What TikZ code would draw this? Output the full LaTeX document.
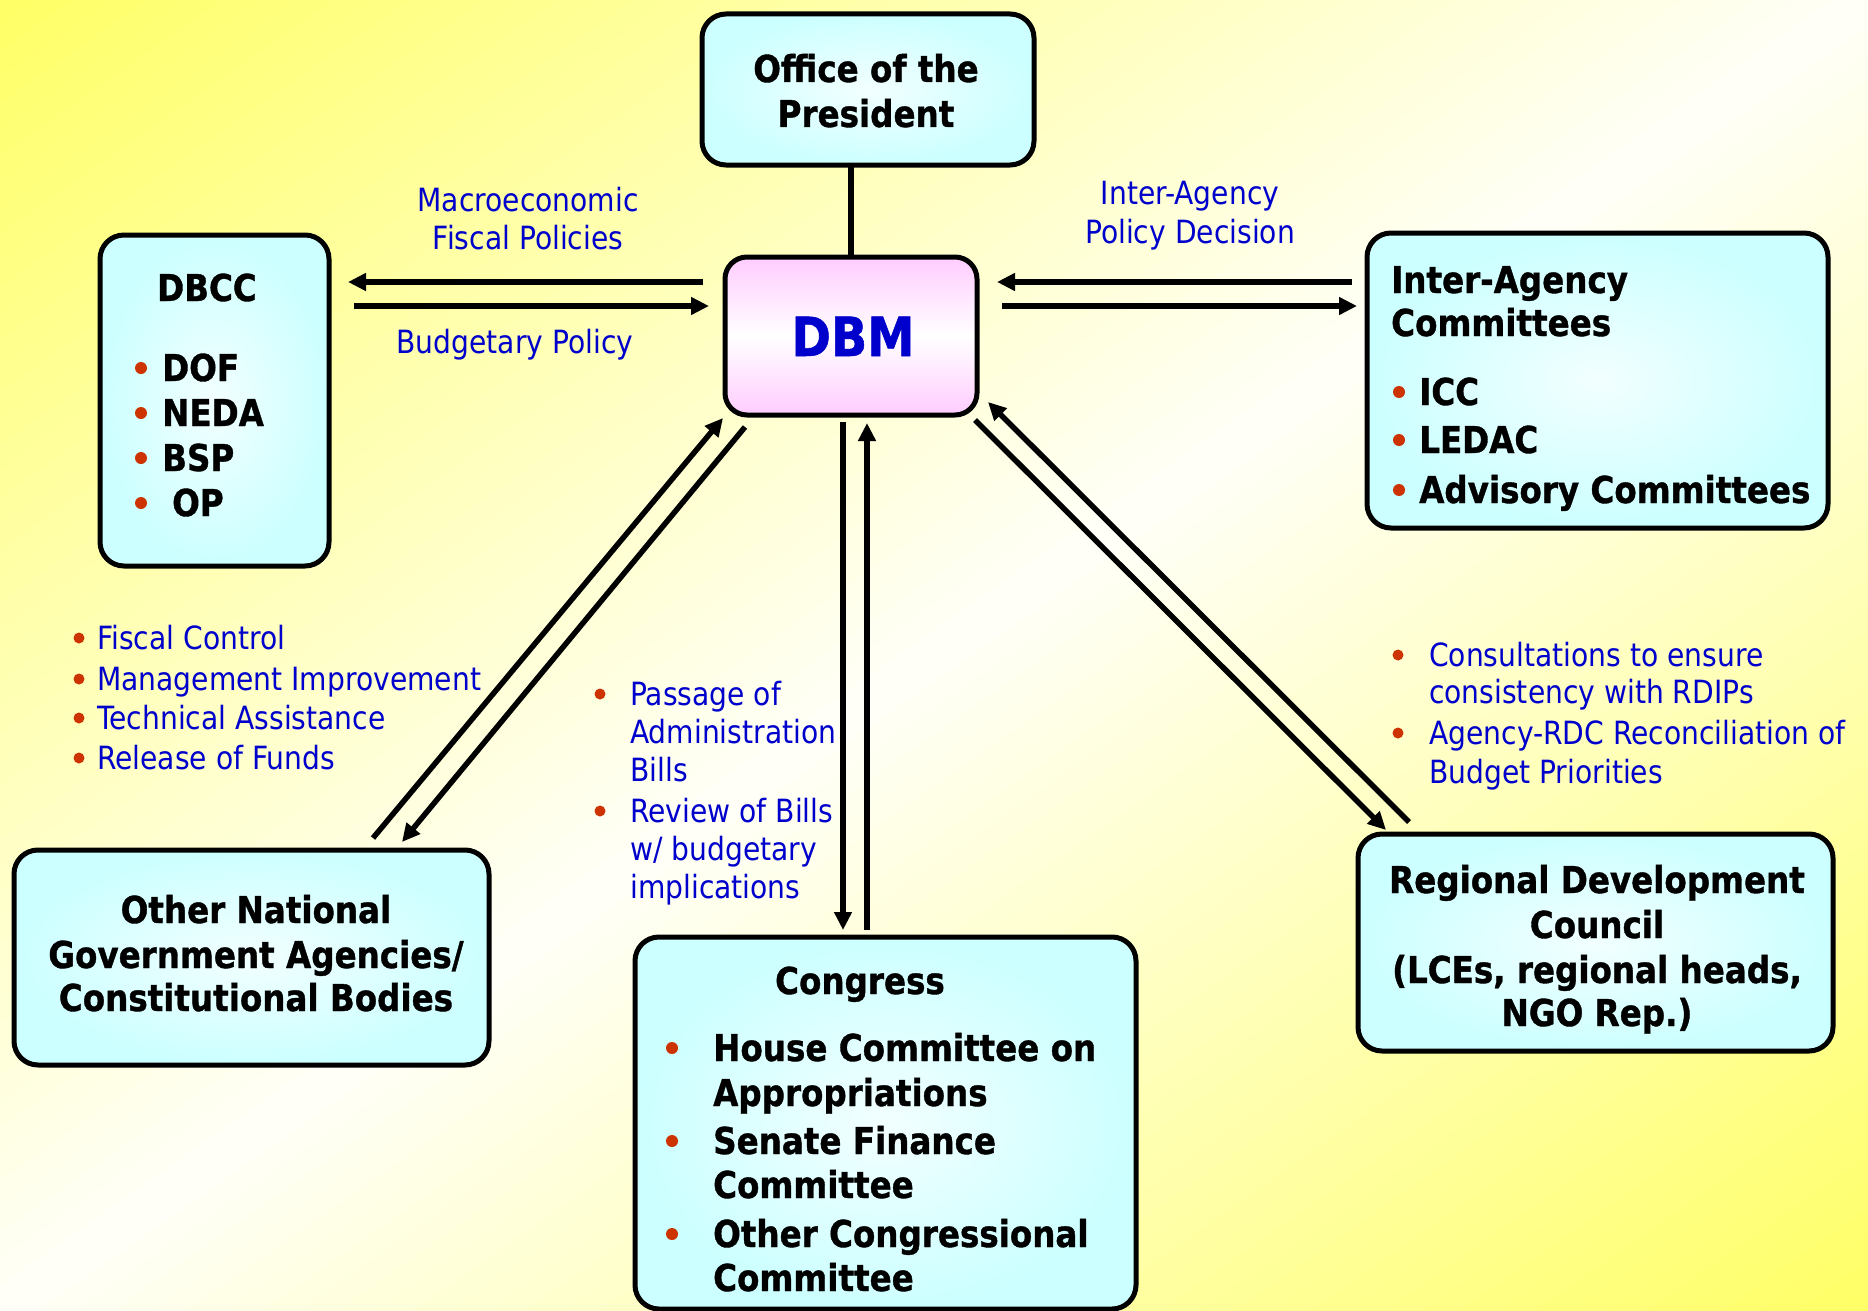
\documentclass[tikz,border=0pt]{standalone}
\usepackage{fontspec}
\setmainfont{DejaVu Sans}[FakeStretch=0.88, BoldFeatures={FakeBold=1}]
\usetikzlibrary{arrows.meta}
\definecolor{bgyellow}{RGB}{255,255,102}
\definecolor{bgwhite}{RGB}{255,255,248}
\definecolor{boxcyan}{RGB}{204,255,255}
\definecolor{boxinner}{RGB}{242,255,255}
\definecolor{dbmpink}{RGB}{255,204,255}
\definecolor{labelblue}{RGB}{0,0,204}
\definecolor{bulletred}{RGB}{204,51,0}
\begin{document}
\begin{tikzpicture}[x=1pt,y=-1pt,
  cbox/.style={draw=black, line width=5pt, rounded corners=24pt, inner color=boxinner, outer color=boxcyan, inner sep=0pt, outer sep=0pt},
  pbox/.style={draw=black, line width=5pt, rounded corners=22pt, top color=dbmpink, bottom color=dbmpink, middle color=white, inner sep=0pt, outer sep=0pt},
  conn/.style={line width=5.5pt},
  arr/.style={conn, -{Triangle[length=18pt,width=17pt]}},
  bt/.style={font=\fontsize{37}{45}\selectfont\bfseries, inner sep=0pt, anchor=base},
  btl/.style={bt, anchor=base west},
  lt/.style={font=\fontsize{32}{38}\selectfont, text=labelblue, inner sep=0pt, anchor=base},
  ltl/.style={lt, anchor=base west}
]
% background: diagonal yellow-white-yellow gradient drawn as thin strips
\begin{scope}
\clip (0,0) rectangle (1868,1311);
\fill[bgwhite] (0,0) rectangle (1868,1311);
\foreach \i in {0,...,99}{
  \pgfmathsetmacro\sa{-1075+21.5*\i}
  \pgfmathsetmacro\sb{\sa+22.5}
  \pgfmathsetmacro\pc{min(100,abs(\sa+10.75)/10.73)}
  \fill[bgyellow!\pc!bgwhite]
    ({934-1023.1-\sa*0.5745},{655.5+718.1-\sa*0.8185}) --
    ({934+1023.1-\sa*0.5745},{655.5-718.1-\sa*0.8185}) --
    ({934+1023.1-\sb*0.5745},{655.5-718.1-\sb*0.8185}) --
    ({934-1023.1-\sb*0.5745},{655.5+718.1-\sb*0.8185}) -- cycle;
}
\end{scope}
\useasboundingbox (0,0) rectangle (1868,1311);

% boxes
\node[cbox, minimum width=332pt, minimum height=151pt] (op) at (868,89.5) {};
\node[pbox, minimum width=252pt, minimum height=158pt] (dbm) at (851,336) {};
\node[cbox, minimum width=229pt, minimum height=331pt] (dbcc) at (214.5,400.5) {};
\node[cbox, minimum width=461pt, minimum height=295pt] (iac) at (1597.5,380.5) {};
\node[cbox, minimum width=475pt, minimum height=215pt] (onga) at (251.5,957.5) {};
\node[cbox, minimum width=501pt, minimum height=372pt] (cong) at (885.5,1123) {};
\node[cbox, minimum width=475pt, minimum height=217pt] (rdc) at (1595.5,942.5) {};

% connector endpoints
\coordinate (dA1) at (703,282); \coordinate (cA1) at (348,282);
\coordinate (cA2) at (354,306); \coordinate (dA2) at (709,306);
\coordinate (iB1) at (1352,282); \coordinate (dB1) at (997,282);
\coordinate (dB2) at (1002,306); \coordinate (iB2) at (1357,306);
\coordinate (oC1) at (373,838); \coordinate (dC1) at (723,418);
\coordinate (dC2) at (745,427); \coordinate (oC2) at (402,842);
\coordinate (dD1) at (843,422); \coordinate (gD1) at (843,930);
\coordinate (gD2) at (867,930); \coordinate (dD2) at (867,423);
\coordinate (dE1) at (975,420); \coordinate (rE1) at (1386,830);
\coordinate (rE2) at (1409,822); \coordinate (dE2) at (988,402);

% connectors
\draw[conn] (op.south -| dbm.north) -- (dbm.north);
\draw[arr] (dA1) -- (cA1);
\draw[arr] (cA2) -- (dA2);
\draw[arr] (iB1) -- (dB1);
\draw[arr] (dB2) -- (iB2);
\draw[arr] (oC1) -- (dC1);
\draw[arr] (dC2) -- (oC2);
\draw[arr] (dD1) -- (gD1);
\draw[arr] (gD2) -- (dD2);
\draw[arr] (dE1) -- (rE1);
\draw[arr] (rE2) -- (dE2);

% box texts
\node[bt] (opt1) at (866,82) {Office of the};
\node[bt] (opt2) at (866,127) {President};
\node[font=\fontsize{54}{54}\selectfont\bfseries, text=labelblue, inner sep=0pt, anchor=base] (dbmt) at (853,356) {DBM};

\node[bt] (dbcct) at (207,301) {DBCC};
\node[btl] (dbcc1) at (162,381) {DOF};
\node[btl] (dbcc2) at (162,426) {NEDA};
\node[btl] (dbcc3) at (162,471) {BSP};
\node[btl] (dbcc4) at (172,516) {OP};
\foreach \y in {368,413,458,503} \fill[bulletred] (141,\y) circle[radius=6pt];

\node[btl] (iact1) at (1391,293) {Inter-Agency};
\node[btl] (iact2) at (1391,336) {Committees};
\node[btl] (iac1) at (1419,405) {ICC};
\node[btl] (iac2) at (1419,453) {LEDAC};
\node[btl] (iac3) at (1419,503) {Advisory Committees};
\foreach \y in {392,440,490} \fill[bulletred] (1399,\y) circle[radius=6pt];

\node[bt] (ongat1) at (256,923) {Other National};
\node[bt] (ongat2) at (256,968) {Government Agencies/};
\node[bt] (ongat3) at (256,1011) {Constitutional Bodies};

\node[bt] (congt) at (860,994) {Congress};
\node[btl] (cong1) at (713,1061) {House Committee on};
\node[btl] (cong2) at (713,1106) {Appropriations};
\node[btl] (cong3) at (713,1154) {Senate Finance};
\node[btl] (cong4) at (713,1198) {Committee};
\node[btl] (cong5) at (713,1247) {Other Congressional};
\node[btl] (cong6) at (713,1291) {Committee};
\foreach \y in {1048,1141,1234} \fill[bulletred] (672,\y) circle[radius=6pt];

\node[bt] (rdct1) at (1597,893) {Regional Development};
\node[bt] (rdct2) at (1597,938) {Council};
\node[bt] (rdct3) at (1597,983) {(LCEs, regional heads,};
\node[bt] (rdct4) at (1597,1026) {NGO Rep.)};

% connector labels
\node[lt] (lab1) at (528,211) {Macroeconomic};
\node[lt] (lab2) at (528,249) {Fiscal Policies};
\node[lt] (lab3) at (515,353) {Budgetary Policy};
\node[lt] (lab4) at (1190,204) {Inter-Agency};
\node[lt] (lab5) at (1190,243) {Policy Decision};

\node[ltl] (ll1) at (97,649) {Fiscal Control};
\node[ltl] (ll2) at (97,690) {Management Improvement};
\node[ltl] (ll3) at (97,729) {Technical Assistance};
\node[ltl] (ll4) at (97,769) {Release of Funds};
\foreach \y in {638,679,718,758} \fill[bulletred] (79,\y) circle[radius=5.5pt];

\node[ltl] (ml1) at (630,705) {Passage of};
\node[ltl] (ml2) at (630,743) {Administration};
\node[ltl] (ml3) at (630,781) {Bills};
\node[ltl] (ml4) at (630,822) {Review of Bills};
\node[ltl] (ml5) at (630,860) {w/ budgetary};
\node[ltl] (ml6) at (630,898) {implications};
\foreach \y in {694,811} \fill[bulletred] (600,\y) circle[radius=5.5pt];

\node[ltl] (rl1) at (1429,666) {Consultations to ensure};
\node[ltl] (rl2) at (1429,703) {consistency with RDIPs};
\node[ltl] (rl3) at (1429,744) {Agency-RDC Reconciliation of};
\node[ltl] (rl4) at (1429,783) {Budget Priorities};
\foreach \y in {655,733} \fill[bulletred] (1398,\y) circle[radius=5.5pt];
\end{tikzpicture}
\end{document}
